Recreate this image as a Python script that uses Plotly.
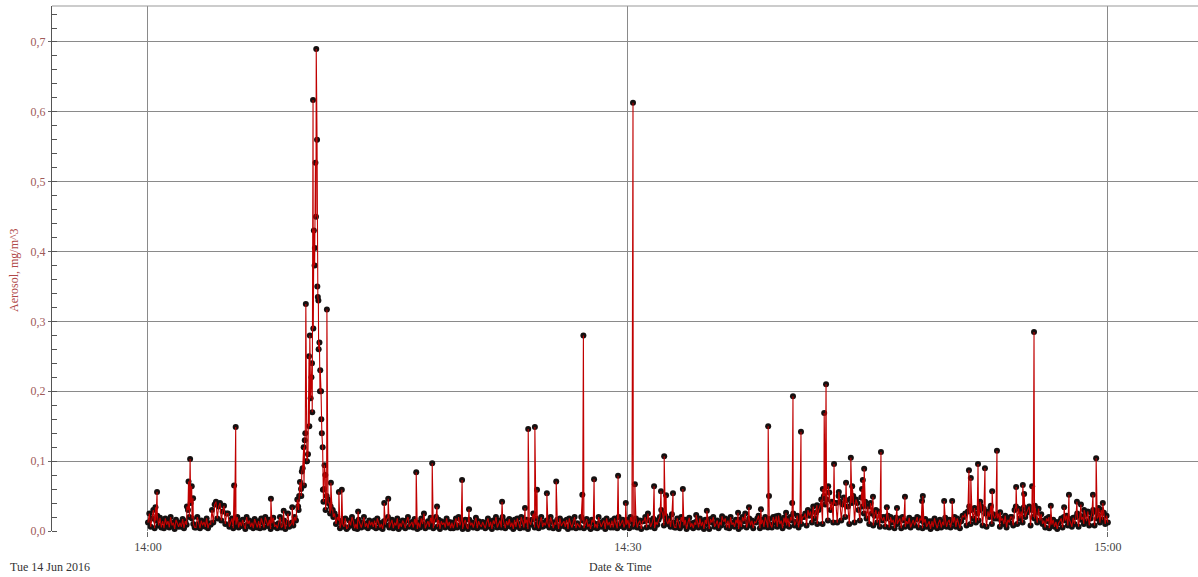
import plotly.graph_objects as go
from datetime import datetime, timedelta

# ---------------- data ----------------
start = datetime(2016, 6, 14, 14, 0, 0)

# baseline samples every 5 s, one row per minute (14:00 ... 14:59) + final point at 15:00
baseline_rows = [
    [.012, .025, .006, .018, .030, .004, .015, .022, .008, .019, .005, .014],  # 14:00
    [.004, .018, .009, .014, .005, .020, .008, .012, .003, .016, .010, .006],
    [.012, .006, .017, .004, .014, .009, .030, .020, .040, .018, .010, .005],
    [.005, .020, .010, .004, .015, .008, .013, .006, .018, .004, .011, .009],
    [.030, .012, .038, .042, .018, .035, .040, .015, .028, .036, .010, .025],
    [.025, .006, .012, .018, .004, .015, .009, .020, .005, .013, .007, .016],
    [.008, .003, .020, .010, .015, .006, .012, .004, .017, .009, .005, .014],
    [.004, .018, .012, .005, .020, .014, .007, .016, .003, .011, .019, .006],
    [.009, .004, .011, .020, .005, .007, .015, .003, .012, .025, .006, .010],
    [.012, .008, .020, .015, .045, .030, .070, .050, .090, .065, .140, .100],
    [.110, .150, .190, .240, .290, .380, .450, .350, .260, .200, .160, .120],  # 14:10
    [.060, .080, .050, .045, .040, .035, .030, .020, .025, .010, .020, .015],
    [.004, .012, .010, .006, .018, .003, .005, .015, .008, .020, .014, .004],
    [.010, .003, .016, .009, .005, .012, .020, .006, .011, .004, .015, .008],
    [.013, .006, .015, .004, .018, .012, .005, .010, .003, .014, .009, .017],
    [.020, .005, .010, .016, .004, .012, .008, .018, .003, .011, .006, .015],
    [.011, .004, .015, .020, .006, .010, .013, .005, .017, .009, .003, .012],
    [.005, .018, .010, .025, .004, .008, .014, .006, .019, .011, .004, .016],
    [.020, .006, .016, .003, .014, .009, .012, .005, .018, .007, .013, .004],
    [.012, .004, .010, .018, .005, .020, .008, .015, .003, .011, .016, .006],
    [.003, .016, .008, .012, .005, .011, .019, .004, .014, .009, .006, .013],  # 14:20
    [.009, .004, .012, .018, .006, .013, .003, .015, .010, .020, .005, .011],
    [.015, .005, .020, .012, .004, .014, .008, .017, .006, .012, .003, .016],
    [.006, .018, .010, .004, .020, .013, .005, .011, .016, .003, .014, .009],
    [.016, .025, .005, .018, .010, .004, .013, .020, .006, .012, .008, .015],
    [.011, .005, .020, .013, .004, .012, .009, .016, .003, .018, .007, .010],
    [.014, .006, .016, .003, .018, .010, .005, .013, .020, .004, .011, .008],
    [.005, .020, .015, .004, .013, .017, .006, .010, .003, .016, .012, .005],
    [.010, .004, .020, .012, .006, .011, .015, .003, .018, .008, .013, .005],
    [.015, .005, .018, .010, .004, .020, .007, .013, .016, .005, .011, .009],
    [.016, .004, .020, .013, .006, .010, .018, .005, .012, .015, .003, .014],  # 14:30
    [.014, .020, .005, .025, .015, .006, .011, .018, .004, .013, .009, .016],
    [.020, .030, .025, .008, .022, .015, .010, .018, .006, .024, .012, .005],
    [.005, .018, .010, .004, .020, .013, .008, .016, .003, .012, .019, .006],
    [.011, .004, .012, .009, .015, .005, .018, .007, .013, .003, .016, .010],
    [.014, .003, .017, .012, .020, .006, .010, .015, .004, .013, .008, .018],
    [.013, .018, .005, .015, .004, .020, .009, .012, .006, .016, .011, .003],
    [.016, .006, .020, .014, .025, .005, .012, .018, .008, .015, .004, .013],
    [.012, .018, .022, .004, .010, .016, .006, .020, .013, .005, .017, .009],
    [.005, .020, .012, .018, .006, .022, .010, .015, .004, .019, .012, .008],
    [.018, .006, .020, .015, .025, .008, .013, .022, .005, .017, .010, .020],  # 14:40
    [.020, .025, .008, .030, .022, .028, .012, .035, .018, .026, .010, .030],
    [.035, .045, .010, .050, .038, .045, .015, .055, .030, .042, .012, .040],
    [.040, .012, .050, .042, .015, .038, .048, .020, .044, .035, .010, .046],
    [.040, .050, .012, .045, .040, .030, .015, .048, .035, .025, .042, .018],
    [.035, .010, .040, .025, .008, .022, .030, .012, .028, .006, .020, .015],
    [.020, .006, .018, .022, .005, .020, .012, .016, .004, .019, .010, .014],
    [.018, .004, .020, .015, .006, .014, .010, .019, .005, .012, .016, .008],
    [.016, .020, .005, .018, .015, .004, .012, .017, .006, .010, .014, .003],
    [.014, .006, .018, .010, .004, .012, .016, .005, .013, .008, .019, .006],
    [.013, .016, .005, .015, .012, .020, .006, .018, .010, .004, .014, .022],  # 14:50
    [.020, .025, .008, .028, .035, .010, .030, .018, .033, .012, .025, .015],
    [.030, .035, .008, .032, .025, .006, .028, .020, .034, .010, .024, .018],
    [.022, .018, .025, .006, .015, .018, .010, .022, .005, .016, .012, .020],
    [.020, .008, .030, .035, .010, .032, .018, .028, .012, .034, .020, .026],
    [.030, .035, .008, .030, .020, .018, .026, .012, .032, .015, .024, .010],
    [.015, .005, .018, .014, .004, .012, .009, .016, .006, .013, .003, .011],
    [.014, .018, .005, .020, .015, .022, .008, .017, .012, .006, .019, .010],
    [.020, .025, .006, .022, .016, .020, .010, .024, .014, .028, .008, .018],
    [.025, .030, .008, .028, .018, .022, .012, .030, .016, .026, .010, .022],
]
baseline_end = 0.012

# isolated readings / spikes: seconds after 14:00 and value (mg/m^3)
spike_sec = [28, 34, 146, 152, 158, 164, 169, 323, 329, 461, 509, 541,
             563, 567, 574, 577, 584, 588, 592, 596, 604, 607, 613, 616,
             619, 622, 626, 628, 631, 634, 637, 639, 643, 646, 649, 652,
             656, 658, 662, 666, 671, 676, 683, 686, 693, 716, 727,
             788, 886, 901, 1006, 1066, 1084, 1178, 1204, 1328, 1414,
             1426, 1451, 1459, 1496, 1531, 1629, 1633, 1673, 1763, 1792,
             1819, 1826, 1898, 1924, 1936, 1943, 1969, 2006, 2056, 2096,
             2153, 2213, 2254, 2299, 2326, 2329, 2356, 2393, 2416, 2419,
             2449, 2509, 2531, 2536, 2543, 2551, 2573, 2591, 2618, 2636,
             2641, 2678, 2681, 2686, 2719, 2749, 2771, 2809, 2839, 2903,
             2906, 2986, 3016, 3079, 3086, 3113, 3121, 3139, 3161, 3166,
             3184, 3196, 3256, 3281, 3286, 3316, 3323, 3326, 3379, 3386,
             3436, 3454, 3484, 3499, 3511, 3544, 3556, 3566, 3581]
spike_val = [0.034, 0.056, 0.035, 0.071, 0.103, 0.064, 0.047, 0.065, 0.149, 0.046, 0.029, 0.034,
             0.035, 0.050, 0.060, 0.085, 0.120, 0.130, 0.325, 0.100, 0.250, 0.280, 0.220, 0.170,
             0.617, 0.430, 0.405, 0.527, 0.690, 0.560, 0.335, 0.330, 0.270, 0.230, 0.200, 0.140,
             0.059, 0.042, 0.094, 0.030, 0.317, 0.040, 0.025, 0.069, 0.030, 0.056, 0.059,
             0.028, 0.040, 0.046, 0.084, 0.097, 0.035, 0.073, 0.031, 0.042, 0.033,
             0.146, 0.149, 0.059, 0.054, 0.071, 0.052, 0.280, 0.074, 0.079, 0.040,
             0.613, 0.067, 0.064, 0.057, 0.107, 0.051, 0.054, 0.060, 0.023, 0.029,
             0.021, 0.026, 0.034, 0.031, 0.150, 0.050, 0.021, 0.026, 0.040, 0.193,
             0.142, 0.037, 0.060, 0.169, 0.210, 0.064, 0.096, 0.056, 0.069, 0.105,
             0.064, 0.060, 0.073, 0.089, 0.049, 0.113, 0.034, 0.033, 0.049, 0.043,
             0.050, 0.043, 0.043, 0.087, 0.076, 0.096, 0.042, 0.090, 0.036, 0.057,
             0.115, 0.027, 0.063, 0.066, 0.053, 0.064, 0.285, 0.036, 0.020, 0.036,
             0.034, 0.052, 0.042, 0.038, 0.030, 0.052, 0.104, 0.033, 0.040]

y_ticks = [0.0, 0.1, 0.2, 0.3, 0.4, 0.5, 0.6, 0.7]
x_tick_labels = ["14:00", "14:30", "15:00"]

# ---------------- assemble series ----------------
points = []
for m, row in enumerate(baseline_rows):
    for k, v in enumerate(row):
        points.append((m * 60 + k * 5, v))
points.append((3600, baseline_end))
for s, v in zip(spike_sec, spike_val):
    points.append((s, v))
points.sort(key=lambda p: p[0])
xs = [start + timedelta(seconds=p[0]) for p in points]
ys = [p[1] for p in points]

serif = "Liberation Serif, Times New Roman, serif"

fig = go.Figure()
# black sample dots underneath, red trace line on top
fig.add_trace(go.Scatter(
    x=xs, y=ys, mode="markers",
    marker=dict(color="#151010", size=6, line=dict(width=0)),
    cliponaxis=False, showlegend=False, hoverinfo="skip",
))
fig.add_trace(go.Scatter(
    x=xs, y=ys, mode="lines",
    line=dict(color="#c00000", width=1.1),
    showlegend=False,
))

tick_vals = [datetime(2016, 6, 14, int(t[:2]), int(t[3:]), 0) for t in x_tick_labels]

PW = 1198 - 52   # plot width in px
PH = 531 - 6     # plot height in px

fig.update_layout(
    width=1198, height=577,
    margin=dict(l=52, r=0, t=6, b=46, autoexpand=False),
    paper_bgcolor="white", plot_bgcolor="white",
    separators=",.",
    font=dict(family=serif, size=12, color="#444444"),
    xaxis=dict(
        type="date", automargin=False,
        range=[datetime(2016, 6, 14, 13, 54, 0), datetime(2016, 6, 14, 15, 5, 38)],
        tickvals=tick_vals, ticktext=x_tick_labels,
        showgrid=True, gridcolor="#8a8a8a", gridwidth=1,
        ticks="outside", ticklen=5, tickcolor="#666666",
        showline=False, zeroline=False,
        tickfont=dict(family=serif, size=12, color="#444444"),
    ),
    yaxis=dict(
        automargin=False,
        range=[0, 0.7515],
        tickvals=y_ticks, tickformat=".1f",
        showgrid=True, gridcolor="#8a8a8a", gridwidth=1,
        ticks="outside", ticklen=3, tickcolor="#666666",
        showline=True, linecolor="#555555", linewidth=1,
        zeroline=False,
        tickfont=dict(family=serif, size=12, color="#a05a5a"),
        minor=dict(dtick=0.02, ticks="inside", ticklen=5, tickcolor="#555555", showgrid=False),
    ),
    shapes=[dict(type="line", xref="paper", yref="paper", x0=0, x1=1, y0=1, y1=1,
                 line=dict(color="#999999", width=1))],
    annotations=[
        dict(text="Aerosol, mg/m^3", xref="paper", yref="paper",
             x=-38 / PW, y=(531 - 270) / PH, textangle=-90,
             xanchor="center", yanchor="middle", showarrow=False,
             font=dict(family=serif, size=12, color="#b04848")),
        dict(text="Tue 14 Jun 2016", xref="paper", yref="paper",
             x=-44 / PW, y=-36 / PH, xanchor="left", yanchor="middle",
             showarrow=False, font=dict(family=serif, size=12, color="#333333")),
        dict(text="Date & Time", xref="paper", yref="paper",
             x=(620 - 52) / PW, y=-36 / PH, xanchor="center", yanchor="middle",
             showarrow=False, font=dict(family=serif, size=12, color="#333333")),
    ],
)

fig.write_html("out.html", config={"displayModeBar": False},
               post_script="document.body.style.margin='0';document.body.style.padding='0';")
